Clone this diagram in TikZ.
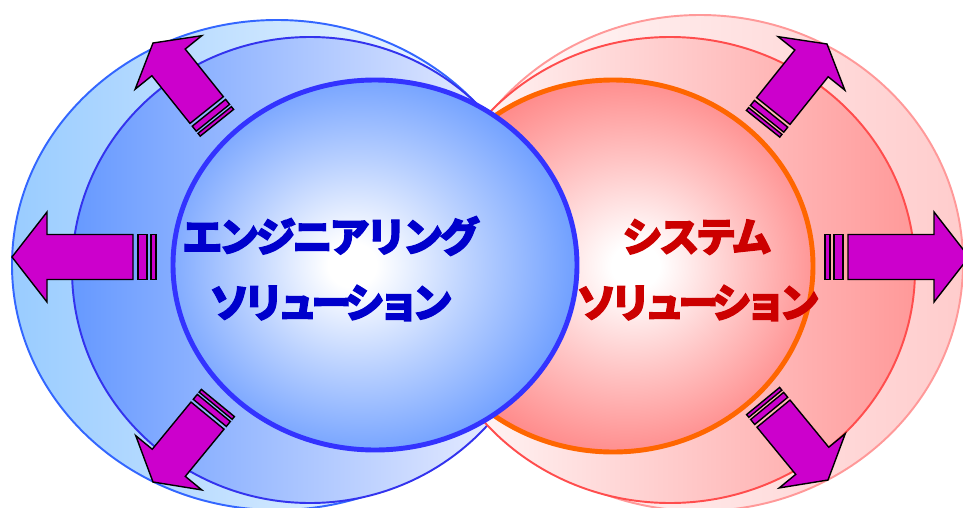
\documentclass[tikz,border=0pt]{standalone}
\usepackage{fontspec}
\newfontfamily\jpfont{Noto Sans CJK JP}[LetterSpace=-9, BoldFeatures={FakeBold=3}]
\newfontfamily\jpnarrow{Noto Sans CJK JP}[LetterSpace=-16, BoldFeatures={FakeBold=3}]
\usepackage{tikz}

% colours of the rings
\definecolor{blueOuterLine}{HTML}{3366FF}
\definecolor{blueOuterFill}{HTML}{99CCFF}
\definecolor{blueMidLine}{HTML}{3333EE}
\definecolor{blueMidFill}{HTML}{6699FF}
\definecolor{blueInnerLine}{HTML}{3333FF}
\definecolor{blueInnerFill}{HTML}{6699FF}
\definecolor{redOuterLine}{HTML}{FF9999}
\definecolor{redOuterFill}{HTML}{FFCCCC}
\definecolor{redMidLine}{HTML}{FF4D4D}
\definecolor{redMidFill}{HTML}{FF9999}
\definecolor{redInnerLine}{HTML}{FF6600}
\definecolor{redInnerFill}{HTML}{FF7F7F}
\definecolor{arrowMagenta}{HTML}{CC00CC}
\definecolor{textBlue}{HTML}{0000CC}
\definecolor{textRed}{HTML}{CC0000}

\pgfdeclareradialshading{blueglow}{\pgfpoint{-3bp}{0bp}}{color(0bp)=(white); color(3bp)=(white); color(14bp)=(blueInnerFill!45!white); color(28bp)=(blueInnerFill); color(50bp)=(blueInnerFill)}
\pgfdeclareradialshading{redglow}{\pgfpoint{3bp}{0bp}}{color(0bp)=(white); color(3bp)=(white); color(14bp)=(redInnerFill!45!white); color(28bp)=(redInnerFill); color(50bp)=(redInnerFill)}

% striped block arrow: tip, angle, length scale, width scale
\newcommand{\stripearrow}[4]{%
  \begin{scope}[shift={#1}, rotate=#2, xscale=#3, yscale=#4]
    \draw[arrowface] (0,0) -- (35,45) -- (35,22.5) -- (121,22.5)
                     -- (121,-22.5) -- (35,-22.5) -- (35,-45) -- cycle;
    \draw[arrowface] (126,-22.5) rectangle (135,22.5);
    \draw[arrowface] (139,-22.5) rectangle (144,22.5);
  \end{scope}}

\begin{document}
\begin{tikzpicture}[x=0.02cm, y=-0.02cm,
    arrowface/.style={fill=arrowMagenta, draw=black, line width=0.8pt},
    label/.style={font=\jpfont\bfseries\fontsize{23}{26}\selectfont, inner sep=0pt},
    labelnarrow/.style={font=\jpnarrow\bfseries\fontsize{23}{26}\selectfont, inner sep=0pt}]

    \useasboundingbox (0,0) rectangle (963,507);

    % Blue outer rings
    \draw[draw=blueOuterLine, line width=1.1pt, left color=blueOuterFill, right color=white]
        (277,265) ellipse [x radius=265, y radius=245];
    \draw[draw=blueMidLine, line width=1.1pt, left color=blueMidFill, right color=blue!4!white]
        (310,270) ellipse [x radius=238, y radius=233];

    % Red outer rings
    \draw[draw=redOuterLine, line width=1.1pt, left color=white, right color=redOuterFill]
        (700,263) ellipse [x radius=263, y radius=248];
    \draw[draw=redMidLine, line width=1.1pt, left color=white, right color=redMidFill]
        (670,270) ellipse [x radius=245, y radius=233];

    % Red inner ball
    \draw[draw=redInnerLine, line width=2.8pt, shading=redglow]
        (613,266) ellipse [x radius=200, y radius=186];

    % Blue inner ball, in front
    \draw[draw=blueInnerLine, line width=2.8pt, shading=blueglow]
        (375,265) ellipse [x radius=202, y radius=185];

    % Arrows pointing out
    \stripearrow{(12,257)}{0}{1}{1}
    \stripearrow{(969,257)}{180}{1}{1}
    \stripearrow{(153,43)}{-51.3}{0.71}{0.95}
    \stripearrow{(153,482)}{50.6}{0.71}{0.95}
    \stripearrow{(827,44)}{-128.7}{0.71}{0.95}
    \stripearrow{(828,480)}{129.4}{0.71}{0.95}

    % Labels
    \node[label, text=textBlue] (engTop) at (331,236) {エンジニアリング};
    \node[labelnarrow, text=textBlue] (engBot) at (331,303) {ソリューション};
    \node[label, text=textRed] (sysTop) at (697,237) {システム};
    \node[labelnarrow, text=textRed] (sysBot) at (698,303) {ソリューション};

\end{tikzpicture}
\end{document}
